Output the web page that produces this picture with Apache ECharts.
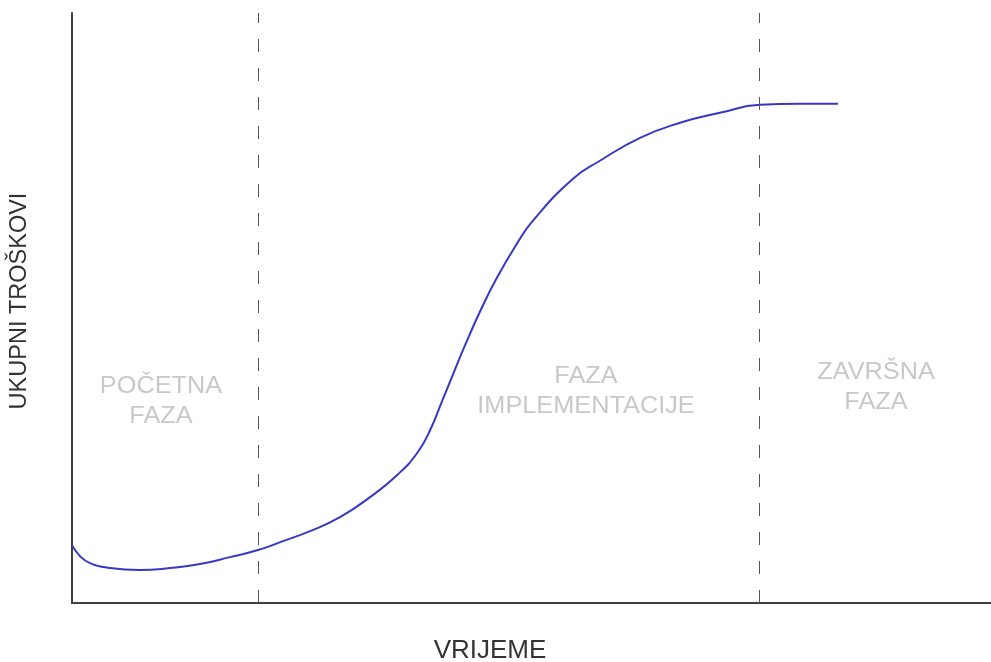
<!DOCTYPE html>
<html>
<head>
<meta charset="utf-8">
<script src="https://cdn.jsdelivr.net/npm/echarts@6/dist/echarts.min.js"></script>
<style>
html,body{margin:0;padding:0;background:#fff;}
#chart{width:991px;height:662px;}
</style>
</head>
<body>
<div id="chart"></div>
<script>
// Time (arbitrary units, 0-100) and total cost (arbitrary units, 0-100)
var timeValues = [0.0, 0.87, 1.96, 4.13, 7.40, 10.66, 13.93, 17.19, 20.24, 22.96, 25.90, 29.16, 32.43, 35.36, 37.54, 38.96, 40.26, 41.46, 42.76, 44.40, 46.25, 48.42, 50.16, 54.52, 57.45, 61.81, 66.16, 70.51, 74.86, 79.22, 83.35];
var costValues = [9.81, 7.95, 6.77, 5.92, 5.58, 5.92, 6.60, 7.78, 8.97, 10.49, 12.18, 14.55, 17.94, 21.66, 25.38, 29.27, 34.18, 38.75, 43.65, 49.41, 55.16, 60.91, 64.81, 71.91, 74.96, 78.85, 81.39, 83.08, 84.43, 84.60, 84.60];
var phaseBoundaries = [20.24, 74.76];
var phaseLabels = ['POČETNA\nFAZA', 'FAZA\nIMPLEMENTACIJE', 'ZAVRŠNA\nFAZA'];
var xAxisTitle = 'VRIJEME';
var yAxisTitle = 'UKUPNI TROŠKOVI';

var chart = echarts.init(document.getElementById('chart'), null, {renderer: 'canvas'});
var FONT = '"Liberation Sans", Arial, sans-serif';

var curve = timeValues.map(function (t, i) { return [t, costValues[i]]; });

function phaseText(label, cx, cy) {
  return {
    type: 'text', x: cx, y: cy, scaleX: 1.1,
    style: {text: label, x: 0, y: 0, fontFamily: FONT, fontSize: 23, fill: '#c8c8c8',
            textAlign: 'center', textVerticalAlign: 'middle', lineHeight: 30}
  };
}

chart.setOption({
  animation: false,
  backgroundColor: '#ffffff',
  grid: {left: 72, right: 0, top: 13, bottom: 59},
  xAxis: {
    type: 'value', min: 0, max: 100,
    axisLine: {show: true, onZero: false, lineStyle: {color: '#404040', width: 2}},
    axisTick: {show: false}, axisLabel: {show: false}, splitLine: {show: false}
  },
  yAxis: {
    type: 'value', min: 0, max: 100,
    axisLine: {show: true, onZero: false, lineStyle: {color: '#404040', width: 2}},
    axisTick: {show: false}, axisLabel: {show: false}, splitLine: {show: false}
  },
  series: [{
    type: 'line',
    data: curve,
    smooth: 0.5,
    showSymbol: false,
    lineStyle: {color: '#3838c4', width: 2},
    markLine: {
      silent: true,
      symbol: ['none', 'none'],
      label: {show: false},
      lineStyle: {color: '#555555', width: 1, type: [13, 16]},
      data: phaseBoundaries.map(function (b) {
        return [{coord: [b, 0]}, {coord: [b, 100]}];
      })
    }
  }],
  graphic: [
    phaseText(phaseLabels[0], 161, 402),
    phaseText(phaseLabels[1], 586, 392),
    phaseText(phaseLabels[2], 876, 388),
    {type: 'text', x: 490, y: 651, style: {text: xAxisTitle, x: 0, y: 0, fontFamily: FONT, fontSize: 26, fill: '#333333', textAlign: 'center', textVerticalAlign: 'middle'}},
    {type: 'text', rotation: Math.PI / 2, x: 20, y: 301, style: {text: yAxisTitle, x: 0, y: 0, fontFamily: FONT, fontSize: 23.5, fill: '#333333', textAlign: 'center', textVerticalAlign: 'middle'}}
  ]
});
</script>
</body>
</html>
